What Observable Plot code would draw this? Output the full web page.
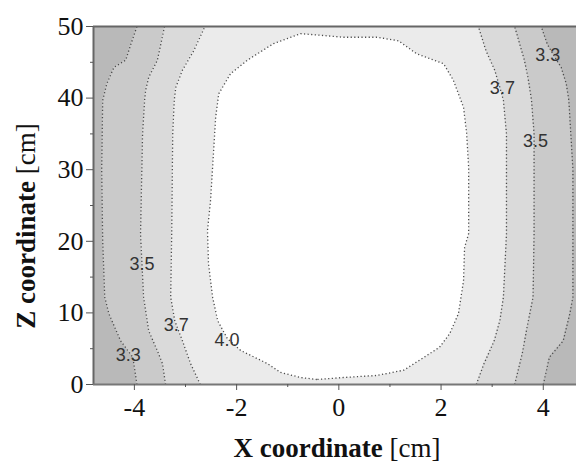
<!DOCTYPE html>
<html><head><meta charset="utf-8">
<script src="https://cdn.jsdelivr.net/npm/d3@7"></script>
<script src="https://cdn.jsdelivr.net/npm/@observablehq/plot@0.6"></script>
<style>body{margin:0;background:#fff;} svg{display:block}</style>
</head><body><div id="chart"></div>
<script>
// Axis ticks
const xTicks = [-4, -2, 0, 2, 4];
const xMinorTicks = [-3, -1, 1, 3];
const zTicks = [0, 10, 20, 30, 40, 50];
const zMinorTicks = [5, 15, 25, 35, 45];

// Contour 3.3 (left / right boundary x at each z)
const z33  = [0, 3.8, 6.1, 9.9, 12.2, 20, 30, 39.7, 42, 44.3, 45.3, 47.5, 50];
const x33L = [-3.95, -4.03, -4.27, -4.50, -4.58, -4.62, -4.64, -4.62, -4.54, -4.40, -4.17, -4.07, -3.95];
const x33R = [4.00, 4.12, 4.39, 4.52, 4.58, 4.58, 4.58, 4.50, 4.45, 4.35, 4.26, 4.08, 3.96];

// Contour 3.5
const z35  = [0, 2.9, 4.7, 7.5, 12.2, 21, 35, 39.7, 41.1, 42.9, 45.3, 50];
const x35L = [-3.39, -3.45, -3.55, -3.72, -3.82, -3.88, -3.84, -3.80, -3.78, -3.72, -3.55, -3.41];
const x35R = [3.44, 3.54, 3.60, 3.67, 3.80, 3.82, 3.82, 3.77, 3.74, 3.70, 3.63, 3.44];

// Contour 3.7
const z37  = [0, 2.9, 6.1, 8.9, 12.2, 21, 35, 39.7, 41.5, 43.9, 46.6, 50];
const x37L = [-2.71, -2.90, -3.06, -3.21, -3.29, -3.27, -3.25, -3.22, -3.19, -3.06, -2.84, -2.62];
const x37R = [2.69, 2.84, 3.04, 3.15, 3.22, 3.28, 3.28, 3.22, 3.15, 3.05, 2.88, 2.73];

// Contour 4.0 (closed loop)
const x40 = [-0.43, -0.75, -1.14, -1.40, -1.92, -2.18, -2.37, -2.47, -2.55, -2.57, -2.51, -2.47, -2.41, -2.35, -2.12, -1.79, -1.28, -0.75, -0.57, 0.09, 0.74, 1.17, 1.52, 2.05, 2.24, 2.44, 2.50, 2.54, 2.54, 2.46, 2.44, 2.34, 2.17, 1.97, 1.58, 1.27, 0.74, 0.09, -0.43];
const z40 = [0.70, 0.98, 1.68, 2.93, 4.75, 6.4, 8.9, 12.2, 16.9, 21.5, 25.7, 30.3, 37.3, 40.6, 43.4, 45.3, 47.6, 49.0, 48.9, 48.5, 48.5, 48.0, 46.2, 44.8, 42.5, 38.7, 35.1, 30.3, 21.1, 19.1, 14.5, 9.9, 7.1, 5.2, 3.4, 2.0, 1.26, 0.98, 0.70];

// Contour labels
const labelText = ["3.3", "3.5", "3.7", "4.0", "3.7", "3.5", "3.3"];
const labelX    = [-4.12, -3.85, -3.18, -2.19, 3.20, 3.85, 4.09];
const labelZ    = [4.1, 16.8, 8.3, 6.2, 41.4, 34.0, 46.0];

// Band fills: <3.3, 3.3–3.5, 3.5–3.7, 3.7–4.0, >4.0
const bandColors = ["#b9b9b9", "#cacaca", "#dadada", "#ebebeb", "#ffffff"];

const band = (zs, ls, rs) => zs.map((z, i) => ({z, l: ls[i], r: rs[i]}));
const b33 = band(z33, x33L, x33R);
const b35 = band(z35, x35L, x35R);
const b37 = band(z37, x37L, x37R);
const loop40 = x40.map((x, i) => ({x, z: z40[i]}));
const labels = labelText.map((t, i) => ({t, x: labelX[i], z: labelZ[i]}));

const dot = {stroke: "#4a4a4a", strokeWidth: 1.3, strokeDasharray: "1.2,2.4", strokeLinecap: "butt"};

const chart = Plot.plot({
  width: 576, height: 463,
  marginLeft: 93, marginRight: 0, marginTop: 26, marginBottom: 79,
  x: {domain: [-4.8, 4.65]},
  y: {domain: [0, 50]},
  style: {fontFamily: "'Liberation Serif', 'Times New Roman', serif", fontSize: "26px", color: "#111", background: "white", overflow: "visible"},
  marks: [
    Plot.frame({fill: bandColors[0], stroke: "none"}),
    Plot.areaX(b33, {y: "z", x1: "l", x2: "r", fill: bandColors[1]}),
    Plot.areaX(b35, {y: "z", x1: "l", x2: "r", fill: bandColors[2]}),
    Plot.areaX(b37, {y: "z", x1: "l", x2: "r", fill: bandColors[3]}),
    Plot.line(loop40, {x: "x", y: "z", fill: bandColors[4], stroke: "none"}),
    Plot.line(b33, {x: "l", y: "z", ...dot}),
    Plot.line(b33, {x: "r", y: "z", ...dot}),
    Plot.line(b35, {x: "l", y: "z", ...dot}),
    Plot.line(b35, {x: "r", y: "z", ...dot}),
    Plot.line(b37, {x: "l", y: "z", ...dot}),
    Plot.line(b37, {x: "r", y: "z", ...dot}),
    Plot.line(loop40, {x: "x", y: "z", ...dot}),
    Plot.text(labels, {x: "x", y: "z", text: "t", fontFamily: "'Liberation Sans', Arial, sans-serif", fontSize: 18, fill: "#333"}),
    Plot.ruleY([50], {stroke: "#666", strokeWidth: 2}),
    Plot.ruleX([-4.8], {stroke: "#666", strokeWidth: 2}),
    Plot.ruleY([0], {stroke: "#777", strokeWidth: 2}),
    Plot.axisX(xTicks, {tickSize: 6, tickPadding: 7, tickFormat: d => String(d), label: null, stroke: "#555"}),
    Plot.axisX(xMinorTicks, {tickSize: 3, fill: "none", label: null, stroke: "#555"}),
    Plot.axisY(zTicks, {tickSize: 7, tickPadding: 3, tickFormat: d => String(d), label: null, stroke: "#555"}),
    Plot.axisY(zMinorTicks, {tickSize: 3, fill: "none", label: null, stroke: "#555"})
  ]
});

const svg = d3.select(chart);
const xt = svg.append("text").attr("x", 337).attr("y", 457).attr("text-anchor", "middle")
  .attr("fill", "#111").style("font-size", "27px").style("font-family", "'Liberation Serif', 'Times New Roman', serif");
xt.append("tspan").attr("font-weight", "bold").text("X coordinate ");
xt.append("tspan").text("[cm]");
const yt = svg.append("text").attr("transform", "translate(35,226) rotate(-90)").attr("text-anchor", "middle")
  .attr("fill", "#111").style("font-size", "27px").style("font-family", "'Liberation Serif', 'Times New Roman', serif");
yt.append("tspan").attr("font-weight", "bold").text("Z coordinate ");
yt.append("tspan").text("[cm]");

document.getElementById("chart").appendChild(chart);
</script>
</body></html>
